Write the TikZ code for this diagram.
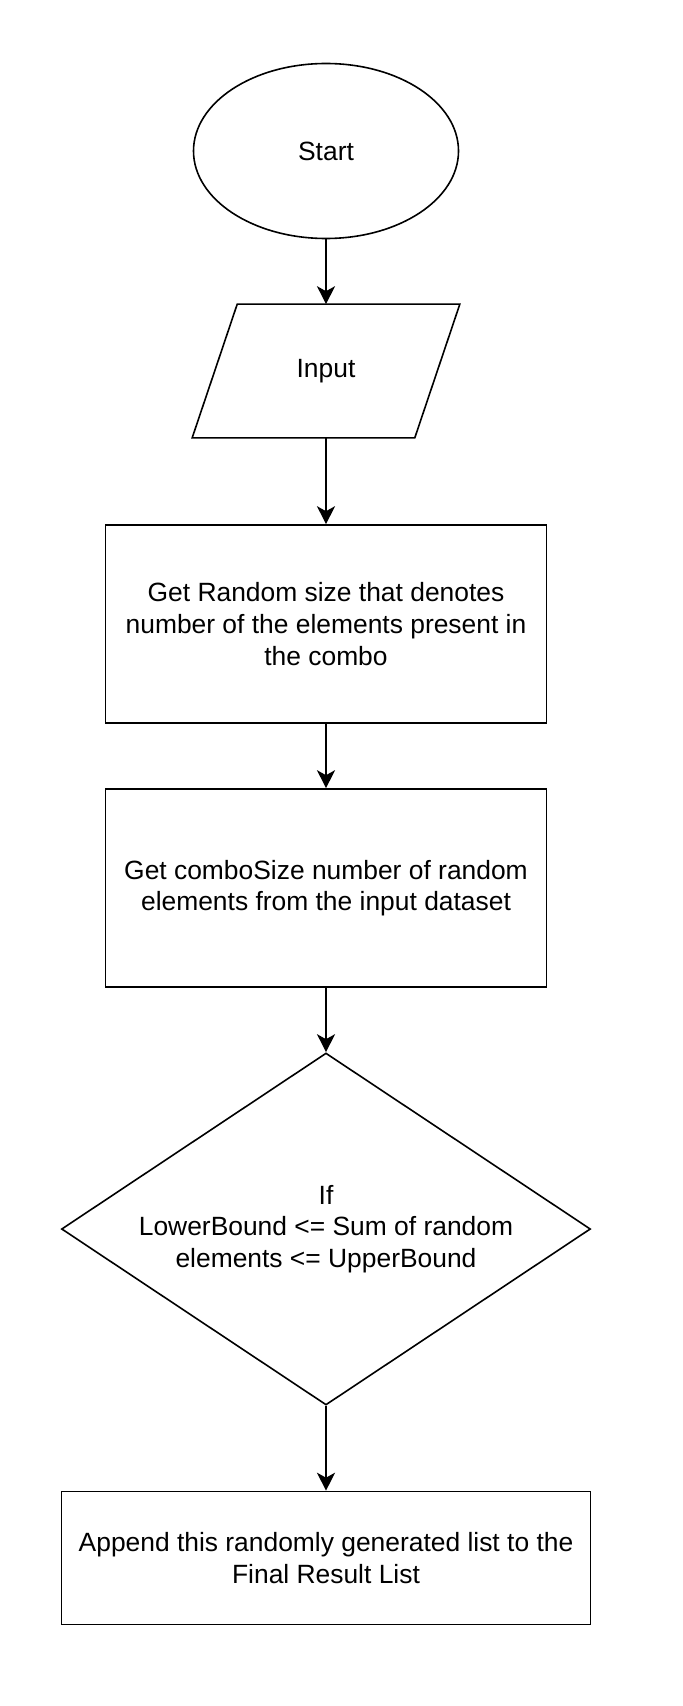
\documentclass[tikz,border=0pt]{standalone}
\usepackage{fontspec}
\setmainfont{Liberation Sans}
\usetikzlibrary{shapes.geometric,arrows.meta}
\begin{document}
\begin{tikzpicture}[x=0.5pt,y=-0.5pt,
    every node/.style={draw,line width=0.8pt,inner sep=0pt,align=center,
      font=\fontsize{13.2}{15.8}\selectfont},
    startnode/.style={ellipse,minimum width=132.5pt,minimum height=87.5pt},
    ionode/.style={rectangle,draw=none,minimum width=110.5pt,minimum height=66pt},
    procnode/.style={rectangle,minimum width=220.5pt,minimum height=99pt},
    decnode/.style={diamond,aspect=1.5,minimum width=264.5pt,minimum height=176pt},
    endnode/.style={rectangle,minimum width=264.5pt,minimum height=66.5pt},
    flow/.style={line width=0.8pt,-{Stealth[length=9pt,width=9pt,inset=2.5pt]}}]
  \useasboundingbox (0,0) rectangle (682,1706);
  \node [startnode] (start) at (326,151)  {Start};
  \node [ionode]    (input) at (326,371)  {Input};
  \draw [line width=0.8pt] ([xshift=11.25pt]input.north west) -- ([xshift=11.25pt]input.north east)
    -- ([xshift=-11.25pt]input.south east) -- ([xshift=-11.25pt]input.south west) -- cycle;
  \node [procnode]  (size)  at (326,624)  {Get Random size that denotes\\number of the elements present in\\the combo};
  \node [procnode]  (pick)  at (326,888)  {Get comboSize number of random\\elements from the input dataset};
  \node [decnode]   (check) at (326,1229) {If\\LowerBound <= Sum of random\\elements <= UpperBound};
  \node [endnode]   (add)   at (326,1558) {Append this randomly generated list to the\\Final Result List};
  \draw [flow] (start) -- (input);
  \draw [flow] (input) -- (size);
  \draw [flow] (size)  -- (pick);
  \draw [flow] (pick)  -- (check);
  \draw [flow] (check) -- (add);
\end{tikzpicture}
\end{document}
